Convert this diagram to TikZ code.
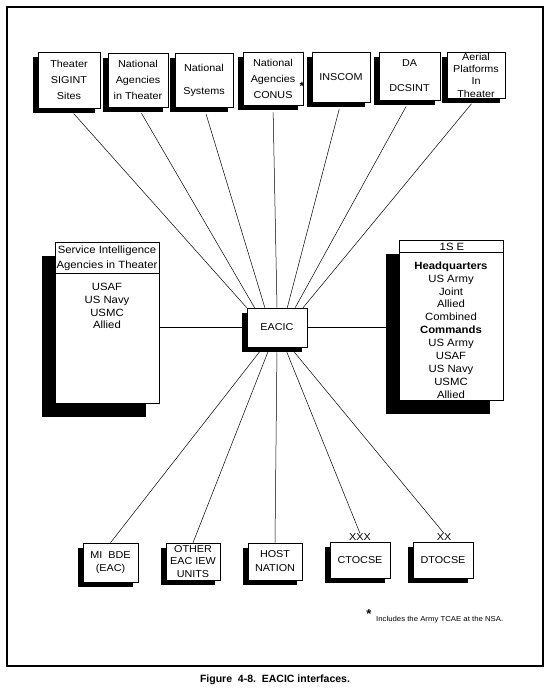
\documentclass[tikz,border=0pt]{standalone}
\usepackage{fontspec}
\setmainfont{Liberation Sans}
\newfontfamily\boxfont{Liberation Sans}[FakeStretch=1.08]
\usetikzlibrary{shadows,calc}
\begin{document}
\begin{tikzpicture}[x=1pt,y=-1pt,
 sbox/.style={draw, line width=0.6pt, fill=white, inner sep=0pt, align=center,
   font=\boxfont\fontsize{10}{16}\selectfont,
   drop shadow={shadow xshift=-5pt, shadow yshift=-5pt, fill=black, opacity=1}},
 lowbox/.style={sbox, font=\boxfont\fontsize{10}{12.5}\selectfont},
 bigbox/.style={draw, line width=0.6pt, fill=white, inner sep=0pt,
   drop shadow={shadow xshift=-13pt, shadow yshift=-14pt, fill=black, opacity=1}},
 btxt/.style={font=\boxfont\fontsize{10.5}{12.9}\selectfont, align=center, inner sep=0pt},
 link/.style={line width=0.5pt}]
\useasboundingbox (0,0) rectangle (550,691);
\draw[line width=1.6pt] (7,7) rectangle (543,666);

% top row
\node[sbox, minimum width=62pt, minimum height=56pt] (t1) at (69,80) {Theater\\SIGINT\\Sites};
\node[sbox, minimum width=60pt, minimum height=54pt] (t2) at (138,80) {National\\Agencies\\in Theater};
\node[sbox, minimum width=58pt, minimum height=54pt] (t3) at (204,80) {National\\[7pt]Systems};
\node[sbox, minimum width=60pt, minimum height=53pt] (t4) at (273,78.5) {National\\Agencies\\CONUS};
\node[font=\bfseries\fontsize{12}{12}\selectfont, inner sep=0pt] (cstar) at (302,86) {*};
\node[sbox, minimum width=58pt, minimum height=50pt] (t5) at (341,77) {INSCOM};
\node[sbox, minimum width=61pt, minimum height=48pt] (t6) at (409.5,76) {DA\\[9pt]DCSINT};
\node[sbox, minimum width=58pt, minimum height=46pt, font=\boxfont\fontsize{10}{12.3}\selectfont] (t7) at (476,75) {Aerial\\Platforms\\In\\Theater};

% side boxes
\node[bigbox, minimum width=104pt, minimum height=161pt] (L) at (107,322.5) {};
\draw[line width=0.6pt] ($(L.north west)+(0,32)$) -- ($(L.north east)+(0,32)$);
\node[btxt, font=\boxfont\fontsize{10.5}{15}\selectfont] (Lh) at (107,258.5) {Service Intelligence\\Agencies in Theater};
\node[btxt] (Lb) at (107,306) {USAF\\US Navy\\USMC\\Allied};

\node[bigbox, minimum width=104pt, minimum height=160pt] (R) at (451,320) {};
\draw[line width=0.6pt] ($(R.north west)+(0,13)$) -- ($(R.north east)+(0,13)$);
\node[btxt] (Rh) at (452,246.5) {1S E};
\node[btxt] (Rb) at (451,330) {\bfseries Headquarters\\US Army\\Joint\\Allied\\Combined\\\bfseries Commands\\US Army\\USAF\\US Navy\\USMC\\Allied};

% centre
\node[sbox, minimum width=60pt, minimum height=39pt] (eacic) at (277,327.5) {EACIC};

% bottom row
\node[lowbox, minimum width=55pt, minimum height=39pt] (b1) at (110.5,562.5) {MI\ \ BDE\\(EAC)};
\node[lowbox, minimum width=54pt, minimum height=37pt] (b2) at (193,561.5) {OTHER\\EAC IEW\\UNITS};
\node[lowbox, minimum width=54pt, minimum height=37pt, font=\boxfont\fontsize{10}{14}\selectfont] (b3) at (275,561.5) {HOST\\NATION};
\node[lowbox, minimum width=60pt, minimum height=36pt] (b4) at (360,560) {CTOCSE};
\node[lowbox, minimum width=60pt, minimum height=36pt] (b5) at (443,560) {DTOCSE};
\node[font=\boxfont\fontsize{10}{10}\selectfont, inner sep=0pt] (xxx) at (360,537) {XXX};
\node[font=\boxfont\fontsize{10}{10}\selectfont, inner sep=0pt] (xx) at (444,537) {XX};

% connectors
\draw[link, shorten <=7pt] (t1.south) -- ($(eacic.north west)!0.0!(eacic.north east)$);
\draw[link, shorten <=7pt] (t2.south) -- ($(eacic.north west)!0.13!(eacic.north east)$);
\draw[link, shorten <=7pt] (t3.south) -- ($(eacic.north west)!0.3!(eacic.north east)$);
\draw[link, shorten <=7pt] (t4.south) -- ($(eacic.north west)!0.5!(eacic.north east)$);
\draw[link, shorten <=7pt] (t5.south) -- ($(eacic.north west)!0.67!(eacic.north east)$);
\draw[link, shorten <=7pt] (t6.south) -- ($(eacic.north west)!0.8!(eacic.north east)$);
\draw[link, shorten <=7pt] (t7.south) -- ($(eacic.north west)!0.93!(eacic.north east)$);
\draw[link] (eacic.west) -- (eacic.west -| L.east);
\draw[link] (eacic.east) -- (eacic.east -| R.west);
\draw[link, shorten <=5pt] ($(eacic.south west)!0.27!(eacic.south east)$) -- (b1.north);
\draw[link, shorten <=5pt] ($(eacic.south west)!0.38!(eacic.south east)$) -- (b2.north);
\draw[link, shorten <=5pt] ($(eacic.south west)!0.5!(eacic.south east)$) -- (b3.north);
\draw[link, shorten <=5pt] ($(eacic.south west)!0.63!(eacic.south east)$) -- (xxx.north);
\draw[link, shorten <=5pt] ($(eacic.south west)!0.72!(eacic.south east)$) -- (xx.north);

% footnote and caption
\node[font=\bfseries\fontsize{13}{13}\selectfont, inner sep=0pt] (fstar) at (369,614) {*};
\node[anchor=west, font=\boxfont\fontsize{7.2}{8}\selectfont, inner sep=0pt] (fnote) at (376,620) {Includes the Army TCAE at the NSA.};
\node[font=\bfseries\fontsize{10.5}{12}\selectfont, inner sep=0pt] (cap) at (275,680) {Figure\ \ 4-8.\ \ EACIC interfaces.};
\end{tikzpicture}
\end{document}
